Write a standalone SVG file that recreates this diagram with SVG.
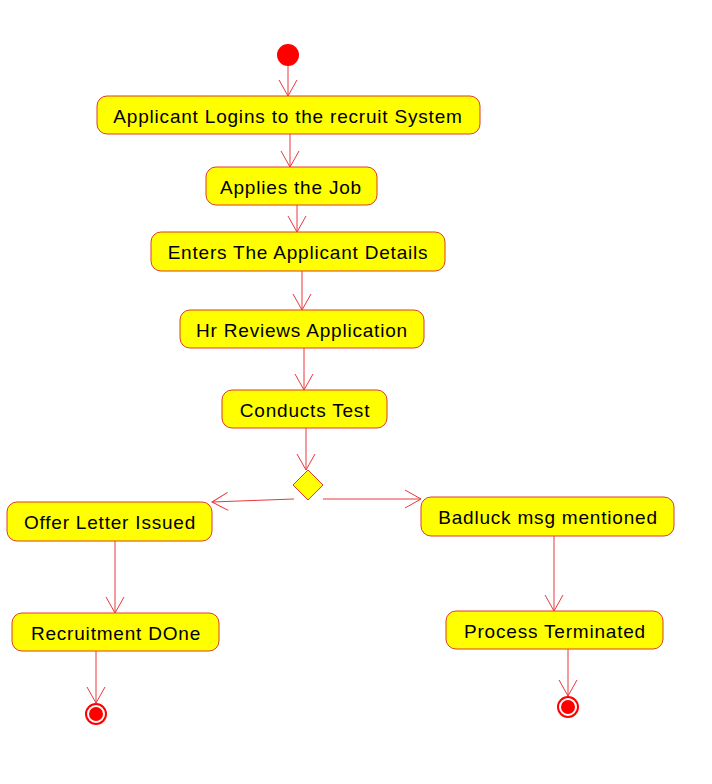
<svg xmlns="http://www.w3.org/2000/svg" width="712" height="784" viewBox="0 0 712 784">
<defs>
<marker id="arr" markerUnits="userSpaceOnUse" markerWidth="20" markerHeight="22" viewBox="-17 -11 18 22" refX="0" refY="0" orient="auto">
<path d="M-16,-9 L0,0 L-16,9" fill="none" stroke="#e8383c" stroke-width="1"/>
</marker>
</defs>
<style>
.box{fill:#ffff00;stroke:#e03c28;stroke-width:1}
.lbl{font-family:"Liberation Sans",Arial,sans-serif;font-size:19px;letter-spacing:0.8px;fill:#000;text-anchor:middle}
.edge{fill:none;stroke:#e8383c;stroke-width:1;marker-end:url(#arr)}
</style>
<rect width="712" height="784" fill="#fff"/>
<g id="connectors">
<line class="edge" x1="288" y1="66" x2="288" y2="96"/>
<line class="edge" x1="290" y1="134" x2="290" y2="167"/>
<line class="edge" x1="297" y1="205" x2="297" y2="232"/>
<line class="edge" x1="302" y1="271" x2="302" y2="310"/>
<line class="edge" x1="304" y1="348" x2="304" y2="390"/>
<line class="edge" x1="306" y1="428" x2="306" y2="470"/>
<line class="edge" x1="294" y1="499" x2="212" y2="502"/>
<line class="edge" x1="323" y1="499" x2="421" y2="499"/>
<line class="edge" x1="115" y1="541" x2="115" y2="613"/>
<line class="edge" x1="554" y1="536" x2="554" y2="611"/>
<line class="edge" x1="96" y1="651" x2="96" y2="703"/>
<line class="edge" x1="568" y1="649" x2="568" y2="696"/>
</g>
<g id="start"><circle cx="288" cy="55" r="11" fill="#ff0000"/></g>
<g id="n1"><rect class="box" x="97" y="96" width="383" height="38" rx="10"/><text class="lbl" x="288" y="123">Applicant Logins to the recruit System</text></g>
<g id="n2"><rect class="box" x="206" y="167" width="171" height="38" rx="10"/><text class="lbl" x="291" y="194">Applies the Job</text></g>
<g id="n3"><rect class="box" x="151" y="232" width="294" height="39" rx="10"/><text class="lbl" x="298" y="259">Enters The Applicant Details</text></g>
<g id="n4"><rect class="box" x="180" y="310" width="244" height="38" rx="10"/><text class="lbl" x="302" y="337">Hr Reviews Application</text></g>
<g id="n5"><rect class="box" x="222" y="390" width="165" height="38" rx="10"/><text class="lbl" x="305" y="417">Conducts Test</text></g>
<g id="decision"><polygon points="308,470 323,485 308,500 293,485" fill="#ffff00" stroke="#e03c28" stroke-width="1"/></g>
<g id="n6"><rect class="box" x="7" y="502" width="205" height="39" rx="10"/><text class="lbl" x="110" y="529">Offer Letter Issued</text></g>
<g id="n7"><rect class="box" x="421" y="497" width="253" height="39" rx="10"/><text class="lbl" x="548" y="524">Badluck msg mentioned</text></g>
<g id="n8"><rect class="box" x="12" y="613" width="207" height="38" rx="10"/><text class="lbl" x="116" y="640">Recruitment DOne</text></g>
<g id="n9"><rect class="box" x="446" y="611" width="217" height="38" rx="10"/><text class="lbl" x="555" y="638">Process Terminated</text></g>
<g id="end1"><circle cx="96" cy="714" r="10" fill="#fff" stroke="#ff0000" stroke-width="2"/><circle cx="96" cy="714" r="7" fill="#ff0000"/></g>
<g id="end2"><circle cx="568" cy="707" r="10" fill="#fff" stroke="#ff0000" stroke-width="2"/><circle cx="568" cy="707" r="7" fill="#ff0000"/></g>
</svg>
